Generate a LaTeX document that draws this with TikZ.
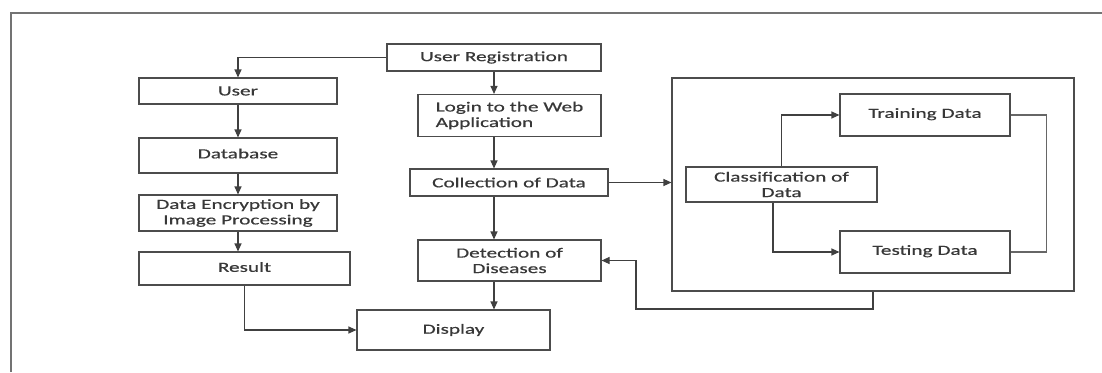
\documentclass[tikz,border=0pt]{standalone}
\usepackage{fontspec}
\setmainfont{Carlito}[FakeStretch=1.52,FakeBold=0.6]
\usetikzlibrary{arrows.meta}
\begin{document}
\begin{tikzpicture}[x=1pt,y=-1pt,
  box/.style={draw=black!70, line width=1.1pt, rectangle, inner sep=2pt, text=black!78,
    font=\fontsize{14}{15.5}\selectfont, align=center},
  arr/.style={draw=black!75, line width=1.1pt, -{Triangle[length=8pt,width=7pt]}},
  ln/.style={draw=black!60, line width=1.1pt}]
\useasboundingbox (0,0) rectangle (1102,372);
\draw[draw=black!55, line width=1.1pt] (11,372) -- (11,13) -- (1102,13);
% left column
\node[box, minimum width=198, minimum height=26] (user) at (238,91) {User};
\node[box, minimum width=198, minimum height=35] (db) at (238,155.5) {\raisebox{4pt}{Database}};
\node[box, minimum width=198, minimum height=36] (enc) at (238,213) {Data Encryption by\\Image Processing};
\node[box, minimum width=211, minimum height=33] (res) at (244.5,268.5) {\raisebox{3pt}{Result}};
\node[box, minimum width=193, minimum height=40] (disp) at (453.5,330) {\raisebox{2pt}{Display}};
% middle column
\node[box, minimum width=214, minimum height=27] (reg) at (494,57.5) {User Registration};
\node[box, minimum width=183, minimum height=42, align=left] (login) at (509.5,115.5) {Login to the Web\\Application};
\node[box, minimum width=198, minimum height=27] (coll) at (509,182.5) {Collection of Data};
\node[box, minimum width=183, minimum height=41] (det) at (509.5,260.5) {Detection of\\Diseases};
% right group
\node[box, minimum width=402, minimum height=213] (big) at (873,184.5) {};
\node[box, minimum width=191, minimum height=35] (cls) at (781.5,184.5) {Classification of\\Data};
\node[box, minimum width=170, minimum height=42] (train) at (925,115) {\raisebox{4pt}{Training Data}};
\node[box, minimum width=170, minimum height=42] (test) at (925,252) {\raisebox{4pt}{Testing Data}};
\coordinate (fb) at (636,309);
% connectors
\draw[arr] (reg.west) -| (user.north);
\draw[arr] (user.south) -- (db.north);
\draw[arr] (db.south) -- (enc.north);
\draw[arr] (enc.south) -- (enc.south |- res.north);
\draw[arr] (res.south) |- (disp.west);
\draw[arr] (reg.south) -- (reg.south |- login.north);
\draw[arr] (reg.south |- login.south) -- (reg.south |- coll.north);
\draw[arr] (reg.south |- coll.south) -- (reg.south |- det.north);
\draw[arr] (reg.south |- det.south) -- (reg.south |- disp.north);
\draw[arr] (coll.east) -- (coll.east -| big.west);
\draw[arr] (cls.north) |- (train.west);
\draw[arr] ([xshift=-8.5pt]cls.south) |- (test.west);
\draw[ln] (train.east) -- ++(36,0) |- (test.east);
\draw[arr] (big.south) |- (fb) |- (det.east);
\end{tikzpicture}
\end{document}
